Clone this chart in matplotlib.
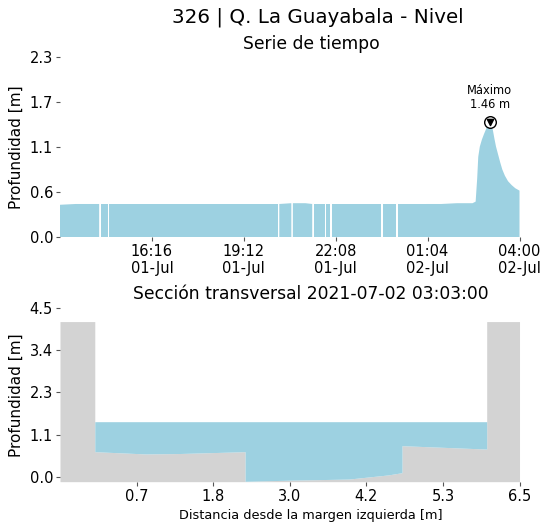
import matplotlib
matplotlib.use("Agg")
import matplotlib.pyplot as plt
import numpy as np
import pandas as pd

# ---------------- data ----------------
ts_times = [
    "2021-07-01 13:20", "2021-07-01 13:50", "2021-07-01 14:20", "2021-07-01 14:35",
    "2021-07-01 14:36", "2021-07-01 14:38", "2021-07-01 14:51", "2021-07-01 14:52",
    "2021-07-01 14:54", "2021-07-01 15:30", "2021-07-01 16:00", "2021-07-01 16:00:10",
    "2021-07-01 16:00:20", "2021-07-01 16:30",
    "2021-07-01 17:00", "2021-07-01 17:30", "2021-07-01 18:13", "2021-07-01 18:13:10",
    "2021-07-01 18:13:20", "2021-07-01 18:30",
    "2021-07-01 19:01", "2021-07-01 19:01:10", "2021-07-01 19:01:20",
    "2021-07-01 19:30", "2021-07-01 20:00", "2021-07-01 20:17",
    "2021-07-01 20:18", "2021-07-01 20:20", "2021-07-01 20:43", "2021-07-01 20:44",
    "2021-07-01 20:46", "2021-07-01 21:10", "2021-07-01 21:23", "2021-07-01 21:24",
    "2021-07-01 21:26", "2021-07-01 21:47", "2021-07-01 21:48", "2021-07-01 21:50",
    "2021-07-01 21:58", "2021-07-01 21:59", "2021-07-01 22:01", "2021-07-01 22:30",
    "2021-07-01 23:00", "2021-07-01 23:35", "2021-07-01 23:36", "2021-07-01 23:38",
    "2021-07-02 00:04", "2021-07-02 00:05", "2021-07-02 00:07", "2021-07-02 00:30",
    "2021-07-02 01:02", "2021-07-02 01:02:10", "2021-07-02 01:02:20",
    "2021-07-02 01:30", "2021-07-02 02:00", "2021-07-02 02:30",
    "2021-07-02 02:36", "2021-07-02 02:39", "2021-07-02 02:41", "2021-07-02 02:44",
    "2021-07-02 02:48", "2021-07-02 02:52", "2021-07-02 02:57", "2021-07-02 03:00",
    "2021-07-02 03:03", "2021-07-02 03:06", "2021-07-02 03:09", "2021-07-02 03:12",
    "2021-07-02 03:15", "2021-07-02 03:19", "2021-07-02 03:23", "2021-07-02 03:27",
    "2021-07-02 03:32", "2021-07-02 03:38", "2021-07-02 03:45", "2021-07-02 03:52",
    "2021-07-02 04:00",
]
nan = np.nan
ts_values = [
    0.41, 0.42, 0.42, 0.42,
    nan, 0.42, 0.42, nan,
    0.42, 0.42, 0.42, nan,
    0.42, 0.42,
    0.42, 0.42, 0.42, nan,
    0.42, 0.42,
    0.42, nan, 0.42,
    0.42, 0.42, 0.42,
    nan, 0.42, 0.43, nan,
    0.43, 0.43, 0.42, nan,
    0.42, 0.42, nan, 0.42,
    0.42, nan, 0.42, 0.42,
    0.42, 0.42, nan, 0.42,
    0.42, nan, 0.42, 0.42,
    0.42, nan, 0.42,
    0.42, 0.43, 0.43,
    0.45, 0.75, 1.02, 1.15,
    1.24, 1.31, 1.39, 1.43,
    1.46, 1.42, 1.36, 1.25,
    1.15, 1.05, 0.95, 0.86,
    0.78, 0.71, 0.66, 0.62,
    0.59,
]
max_time = "2021-07-02 03:03"
max_value = 1.46
ts_start = "2021-07-01 13:20"
ts_end = "2021-07-02 04:00"
ts_ymax = 2.29

# cross section
cs_x = [-0.5, 0.03, 0.03, 0.8, 1.3, 2.32, 2.32, 3.0, 3.9, 4.5, 4.71, 4.71, 6.0, 6.0, 6.5]
cs_y = [4.15, 4.15, 0.68, 0.62, 0.63, 0.68, -0.11, -0.08, -0.05, 0.06, 0.12, 0.84, 0.75, 4.15, 4.15]
water_level = 1.48
cs_ymin = -0.12
cs_ymax = 4.52
cs_xmin, cs_xmax = -0.5, 6.5

title_main = "326 | Q. La Guayabala - Nivel"
title_ts = "Serie de tiempo"
title_cs = "Sección transversal 2021-07-02 03:03:00"
ylabel = "Profundidad [m]"
xlabel_cs = "Distancia desde la margen izquierda [m]"

water_color = "#9dd1e1"
ground_color = "#d3d3d3"

# ---------------- figure ----------------
fig = plt.figure(figsize=(5.42, 5.27), dpi=100)
ax1 = fig.add_axes([0.1107, 0.5503, 0.8478, 0.3415])
ax2 = fig.add_axes([0.1107, 0.0860, 0.8478, 0.3301])
title_x = 0.546  # titles centred slightly right of the axes centre

for ax in (ax1, ax2):
    for s in ax.spines.values():
        s.set_visible(False)
    ax.tick_params(axis="both", length=3, width=0.8, color="#555555", labelsize=10.5, pad=2)

# time series
t = pd.to_datetime(ts_times, format="ISO8601")
v = np.array(ts_values, dtype=float)
ax1.fill_between(t, 0, v, color=water_color, linewidth=0)
t0 = pd.Timestamp(ts_start)
t1 = pd.Timestamp(ts_end)
ax1.set_xlim(t0, t1)
ax1.set_ylim(0, ts_ymax)
yt = np.linspace(0, ts_ymax, 5)
ax1.set_yticks(yt)
ax1.set_yticklabels([f"{y:.1f}" for y in yt])
xt = pd.date_range(t0, t1, periods=6)[1:]
ax1.set_xticks(xt)
ax1.set_xticklabels([d.strftime("%H:%M\n%d-%b") for d in xt])
ax1.set_ylabel(ylabel, fontsize=11)
ax1.set_title(title_ts, fontsize=12.3, pad=6, x=title_x)

mt = pd.Timestamp(max_time)
ax1.scatter([mt], [max_value], s=70, facecolor="white", edgecolor="black", linewidth=1.0, zorder=3)
ax1.scatter([mt], [max_value], s=20, marker="v", color="black", zorder=4)
ax1.annotate(f"Máximo\n{max_value:.2f} m", xy=(mt, max_value), xytext=(0, 8),
             textcoords="offset points", ha="center", va="bottom", fontsize=8.3, linespacing=1.15)

# cross section
cx = np.array(cs_x)
cy = np.array(cs_y)
ax2.fill_between(cx, cs_ymin, cy, color=ground_color, linewidth=0)
ax2.fill_between(cx, cy, np.maximum(cy, water_level), color=water_color, linewidth=0)
ax2.set_xlim(cs_xmin, cs_xmax)
ax2.set_ylim(cs_ymin, cs_ymax)
yt2 = np.linspace(0, cs_ymax, 5)
ax2.set_yticks(yt2)
ax2.set_yticklabels([f"{y:.1f}" for y in yt2])
xt2 = np.linspace(cs_xmin, cs_xmax, 7)[1:]
ax2.set_xticks(xt2)
ax2.set_xticklabels([f"{x:.1f}" for x in xt2])
ax2.set_ylabel(ylabel, fontsize=11)
ax2.set_xlabel(xlabel_cs, fontsize=9.3, labelpad=4, x=title_x)
ax2.set_title(title_cs, fontsize=12.3, pad=6, x=title_x)

fig.suptitle(title_main, fontsize=14.3, x=0.587, y=0.985)

fig.savefig("out.png", dpi=100)
